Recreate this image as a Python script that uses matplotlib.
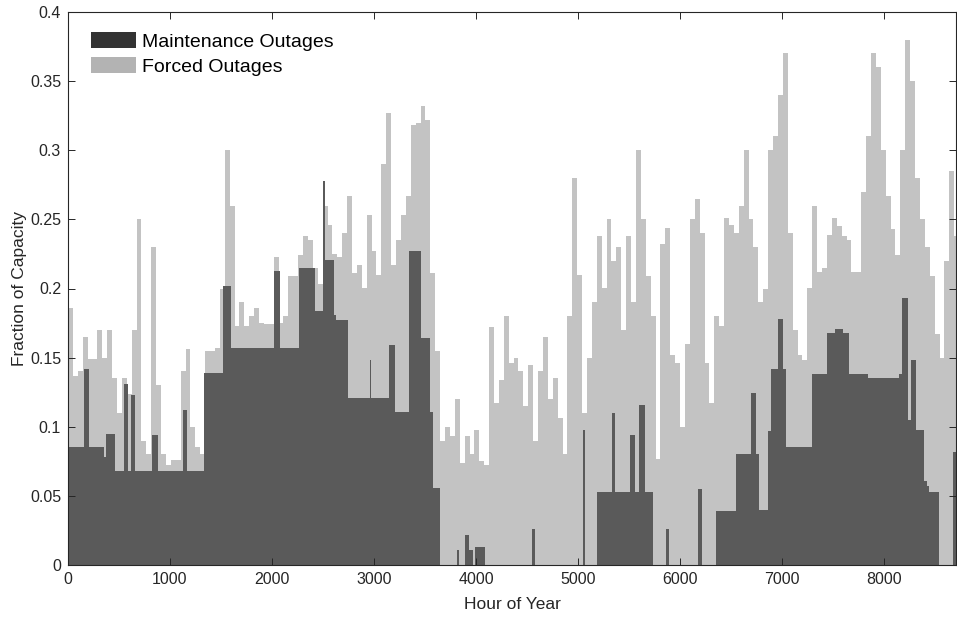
import numpy as np
import matplotlib
matplotlib.use("Agg")
import matplotlib.pyplot as plt
from matplotlib.patches import Patch

plt.rcParams['font.family'] = ['Liberation Sans', 'DejaVu Sans']

# ---- data -------------------------------------------------------------
HOURS = 8760
BIN_HOURS = 48

# maintenance outages: step function (segment start hour, fraction)
maint_start = [0, 160, 201, 350, 373, 465, 548, 590, 614, 653, 822, 878, 1125, 1168,
               1333, 1515, 1600, 2023, 2076, 2267, 2420, 2502, 2521, 2603, 2625, 2746,
               2958, 2974, 3150, 3205, 3342, 3456, 3547, 3580, 3642, 3814, 3830, 3896,
               3930, 3970, 3987, 4091, 4550, 4575, 5045, 5065, 5186, 5332, 5358, 5505,
               5554, 5596, 5661, 5736, 5863, 5896, 6173, 6215, 6355, 6550, 6692, 6748,
               6770, 6862, 6888, 6961, 7010, 7043, 7295, 7443, 7518, 7593, 7659, 7846,
               8151, 8174, 8233, 8266, 8315, 8393, 8420, 8443, 8535, 8676]
maint_value = [0.085, 0.142, 0.085, 0.078, 0.095, 0.068, 0.131, 0.068, 0.123, 0.068, 0.094,
               0.068, 0.112, 0.068, 0.139, 0.202, 0.157, 0.213, 0.157, 0.215, 0.184, 0.278,
               0.2205, 0.181, 0.177, 0.121, 0.148, 0.121, 0.159, 0.111, 0.227, 0.164, 0.111,
               0.056, 0.0, 0.011, 0.0, 0.022, 0.011, 0.0, 0.013, 0.0, 0.026, 0.0, 0.098, 0.0,
               0.053, 0.11, 0.053, 0.094, 0.053, 0.116, 0.053, 0.0, 0.026, 0.0, 0.055, 0.0,
               0.039, 0.08, 0.1245, 0.08, 0.04, 0.097, 0.1416, 0.178, 0.1416, 0.085, 0.138,
               0.168, 0.171, 0.168, 0.138, 0.135, 0.138, 0.193, 0.105, 0.148, 0.098, 0.061,
               0.057, 0.053, 0.0, 0.082]

# total outages (maintenance + forced), one value per 48-hour block
total_value = [
    0.186, 0.137, 0.14, 0.165, 0.149, 0.149, 0.17, 0.15, 0.17, 0.135,
    0.11, 0.135, 0.124, 0.17, 0.25, 0.09, 0.08, 0.23, 0.13, 0.08,
    0.072, 0.076, 0.076, 0.14, 0.156, 0.1, 0.085, 0.08, 0.155, 0.155,
    0.157, 0.2, 0.3, 0.26, 0.173, 0.19, 0.173, 0.18, 0.186, 0.175,
    0.174, 0.174, 0.223, 0.175, 0.18, 0.209,
    0.209, 0.224, 0.238, 0.235, 0.215, 0.203, 0.26, 0.246, 0.225, 0.223,
    0.24, 0.267, 0.211, 0.217, 0.2, 0.253, 0.227, 0.21, 0.29, 0.327,
    0.217, 0.235, 0.253, 0.267, 0.318, 0.32, 0.332, 0.322, 0.211, 0.155,
    0.09, 0.1, 0.093, 0.12, 0.074, 0.093, 0.08, 0.098, 0.075, 0.072,
    0.172, 0.117, 0.134, 0.18, 0.146,
    0.15, 0.14, 0.115, 0.145, 0.09, 0.14, 0.165, 0.12, 0.135, 0.106,
    0.08, 0.18, 0.28, 0.21, 0.11, 0.15, 0.19, 0.238, 0.2, 0.25,
    0.22, 0.23, 0.17, 0.238, 0.19, 0.3, 0.25, 0.209, 0.18, 0.077,
    0.232, 0.244, 0.152, 0.146, 0.1, 0.16, 0.25, 0.265, 0.24, 0.146,
    0.117, 0.18, 0.173, 0.251, 0.246, 0.24,
    0.26, 0.3, 0.25, 0.23, 0.19, 0.2, 0.3, 0.31, 0.34, 0.37,
    0.24, 0.17, 0.152, 0.148, 0.2, 0.26, 0.212, 0.215, 0.239, 0.251,
    0.245, 0.238, 0.235, 0.212, 0.212, 0.27, 0.31, 0.37, 0.36, 0.3,
    0.267, 0.243, 0.224, 0.3, 0.38, 0.35, 0.28, 0.25, 0.23, 0.209,
    0.167, 0.15, 0.22, 0.285, 0.238, 0.24]

x_ticks = [0, 1000, 2000, 3000, 4000, 5000, 6000, 7000, 8000]
y_ticks = [0, 0.05, 0.1, 0.15, 0.2, 0.25, 0.3, 0.35, 0.4]
y_tick_labels = ['0', '0.05', '0.1', '0.15', '0.2', '0.25', '0.3', '0.35', '0.4']

# ---- expand to hourly series ------------------------------------------
durations = np.diff(maint_start + [HOURS])
maint_h = np.repeat(np.array(maint_value), durations)
total_h = np.repeat(np.array(total_value), BIN_HOURS)[:HOURS]
forced_h = np.clip(total_h - maint_h, 0, None)
hours = np.arange(1, HOURS + 1)

# ---- plot ---------------------------------------------------------------
fig = plt.figure(figsize=(9.57, 6.18), dpi=100)
ax = fig.add_axes([68 / 957, 1 - 565 / 618, 888 / 957, (565 - 12) / 618])

dark = '#5a5a5a'
light = '#c3c3c3'
ax.bar(hours, maint_h, width=1.0, color=dark, linewidth=0)
ax.bar(hours, forced_h, width=1.0, bottom=maint_h, color=light, linewidth=0)

ax.set_xlim(0, 8706)
ax.set_ylim(0, 0.4)
ax.set_xticks(x_ticks)
ax.set_xticklabels([str(t) for t in x_ticks])
ax.set_yticks(y_ticks)
ax.set_yticklabels(y_tick_labels)

ax.tick_params(direction='in', top=True, right=True, length=5, width=0.7,
               color='#262626', labelsize=11.5, labelcolor='#262626', pad=5)
for s in ax.spines.values():
    s.set_color('#262626')
    s.set_linewidth(0.8)

ax.set_xlabel('Hour of Year', fontsize=12.5, color='#262626', labelpad=7)
ax.set_ylabel('Fraction of Capacity', fontsize=12.5, color='#262626', labelpad=2)

handles = [Patch(facecolor='#333333', edgecolor='none', label='Maintenance Outages'),
           Patch(facecolor='#b3b3b3', edgecolor='none', label='Forced Outages')]
ax.legend(handles=handles, loc='upper left', frameon=False, fontsize=14,
          handlelength=2.3, handleheight=0.9, handletextpad=0.3,
          labelspacing=0.32, borderaxespad=0.0, bbox_to_anchor=(0.0175, 0.978))

fig.savefig('out.png', dpi=100)
